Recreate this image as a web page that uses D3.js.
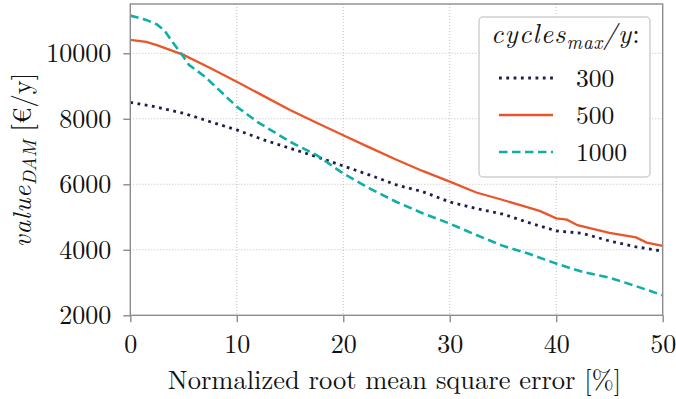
<!DOCTYPE html>
<html>
<head>
<meta charset="utf-8">
<script src="https://cdn.jsdelivr.net/npm/d3@7"></script>
<style>
  body { margin: 0; background: #fff; }
  svg { display: block; }
</style>
</head>
<body>
<svg width="676" height="399"></svg>
<script>
// data (x = NRMSE in %, y = value in EUR/year)
const xs300 = [0, 2, 5, 7.5, 10, 12.5, 15, 17.5, 20, 22.5, 25, 27.5, 30, 32.5, 35, 37.5, 40, 42.5, 45, 47.5, 50];
const ys300 = [8500, 8390, 8170, 7910, 7660, 7360, 7100, 6840, 6560, 6280, 5980, 5770, 5460, 5260, 5090, 4820, 4580, 4500, 4270, 4090, 3960];

const xs500 = [0, 1.5, 2.5, 5, 7.5, 10, 12.5, 15, 17.5, 20, 22.5, 25, 27.5, 30, 32.5, 35, 37.5, 38.5, 40, 41, 42, 45, 47.5, 48.5, 50];
const ys500 = [10410, 10350, 10250, 9950, 9550, 9130, 8700, 8270, 7880, 7500, 7120, 6750, 6400, 6080, 5750, 5520, 5280, 5180, 4960, 4920, 4750, 4520, 4380, 4220, 4120];

const xs1000 = [0, 1.5, 2.5, 3.2, 4, 5, 5.5, 7, 10, 12, 15, 17.5, 20, 22.5, 25, 27.5, 30, 32.5, 35, 37.5, 40, 42.5, 45, 47.5, 50];
const ys1000 = [11150, 11020, 10880, 10700, 10330, 9890, 9650, 9290, 8370, 7890, 7300, 6890, 6330, 5870, 5460, 5110, 4800, 4450, 4120, 3870, 3580, 3320, 3150, 2890, 2610];

const xTicks = [0, 10, 20, 30, 40, 50];
const yTicks = [2000, 4000, 6000, 8000, 10000];
const seriesNames = ['300', '500', '1000'];

const series = [
  { name: seriesNames[0], xs: xs300, ys: ys300, color: '#1c1f4b', width: 2.8, dash: '2.8,4.5' },
  { name: seriesNames[1], xs: xs500, ys: ys500, color: '#e9562b', width: 2.3, dash: null },
  { name: seriesNames[2], xs: xs1000, ys: ys1000, color: '#0fafa7', width: 2.6, dash: '8.5,4.5' },
];

const FONT = '"Latin Modern Roman", "Liberation Serif", serif';

const svg = d3.select('svg');
const pLeft = 130.3, pRight = 662.7, pTop = 4, pBottom = 315.3;

const x = d3.scaleLinear().domain([0, 50]).range([pLeft, pRight]);
const y = d3.scaleLinear().domain([2000, 11505]).range([pBottom, pTop]);

// grid
svg.append('g')
  .selectAll('line')
  .data(xTicks.slice(1, -1))
  .join('line')
  .attr('x1', d => x(d)).attr('x2', d => x(d))
  .attr('y1', pTop).attr('y2', pBottom)
  .attr('stroke', '#b8b8b8').attr('stroke-width', 0.9).attr('stroke-dasharray', '1,2');
svg.append('g')
  .selectAll('line')
  .data(yTicks.slice(1))
  .join('line')
  .attr('x1', pLeft).attr('x2', pRight)
  .attr('y1', d => y(d)).attr('y2', d => y(d))
  .attr('stroke', '#b8b8b8').attr('stroke-width', 0.9).attr('stroke-dasharray', '1,2');

// lines
const plot = svg.append('g');
series.forEach((s) => {
  const pts = s.xs.map((v, i) => [v, s.ys[i]]);
  const line = d3.line().x(d => x(d[0])).y(d => y(d[1]));
  plot.append('path')
    .attr('d', line(pts))
    .attr('fill', 'none')
    .attr('stroke', s.color)
    .attr('stroke-width', s.width)
    .attr('stroke-dasharray', s.dash);
});

// frame and ticks
svg.append('rect')
  .attr('x', pLeft).attr('y', pTop)
  .attr('width', pRight - pLeft).attr('height', pBottom - pTop)
  .attr('fill', 'none').attr('stroke', '#8c8c8c').attr('stroke-width', 1.4);

const xAxis = svg.append('g')
  .attr('transform', `translate(0,${pBottom})`)
  .call(d3.axisBottom(x).tickValues(xTicks).tickSize(7).tickPadding(12).tickFormat(d3.format('d')));
const yAxis = svg.append('g')
  .attr('transform', `translate(${pLeft},0)`)
  .call(d3.axisLeft(y).tickValues(yTicks).tickSize(7).tickPadding(12).tickFormat(d3.format('d')));
[xAxis, yAxis].forEach((a) => {
  a.select('.domain').remove();
  a.selectAll('.tick line').attr('stroke', '#8c8c8c').attr('stroke-width', 1.4);
  a.selectAll('.tick text').style('font-family', FONT)
    .style('font-size', '26px').attr('fill', '#111');
});

// axis labels
svg.append('text')
  .attr('x', (pLeft + pRight) / 2 - 2).attr('y', 389)
  .attr('text-anchor', 'middle')
  .style('font-family', FONT).style('font-size', '26.5px').attr('fill', '#111')
  .text('Normalized root mean square error [%]');

const yl = svg.append('text')
  .attr('transform', 'translate(31,160) rotate(-90)')
  .attr('text-anchor', 'middle')
  .style('font-family', FONT).style('font-size', '26.5px').attr('fill', '#111');
yl.append('tspan').style('font-style', 'italic').style('letter-spacing', '0.6px').text('value');
yl.append('tspan').style('font-style', 'italic').style('font-size', '19px').attr('dy', 5).text('DAM');
yl.append('tspan').attr('dy', -5).text(' [€/y]');

// legend
const lg = svg.append('g');
lg.append('rect')
  .attr('x', 479).attr('y', 17).attr('width', 171).attr('height', 160).attr('rx', 4)
  .attr('fill', '#fff').attr('fill-opacity', 0.9)
  .attr('stroke', '#d0d0d0').attr('stroke-width', 1.5);
const lt = lg.append('text').attr('x', 491).attr('y', 43)
  .style('font-family', FONT).style('font-size', '27px').attr('fill', '#111');
lt.append('tspan').style('font-style', 'italic').style('letter-spacing', '1.2px').text('cycles');
lt.append('tspan').style('font-style', 'italic').style('font-size', '19px').style('letter-spacing', '0.8px').attr('dy', 6).text('max');
lt.append('tspan').style('font-style', 'italic').style('letter-spacing', '1.2px').attr('dy', -6).text('/y');
lt.append('tspan').text(':');

const rowY = d3.scalePoint().domain(seriesNames).range([78, 152]);
series.forEach((s) => {
  lg.append('line')
    .attr('x1', 499).attr('x2', 553)
    .attr('y1', rowY(s.name)).attr('y2', rowY(s.name))
    .attr('stroke', s.color).attr('stroke-width', s.width)
    .attr('stroke-dasharray', s.dash);
  lg.append('text')
    .attr('x', 576).attr('y', rowY(s.name) + 9)
    .style('font-family', FONT).style('font-size', '25.5px').attr('fill', '#111')
    .text(s.name);
});
</script>
</body>
</html>
